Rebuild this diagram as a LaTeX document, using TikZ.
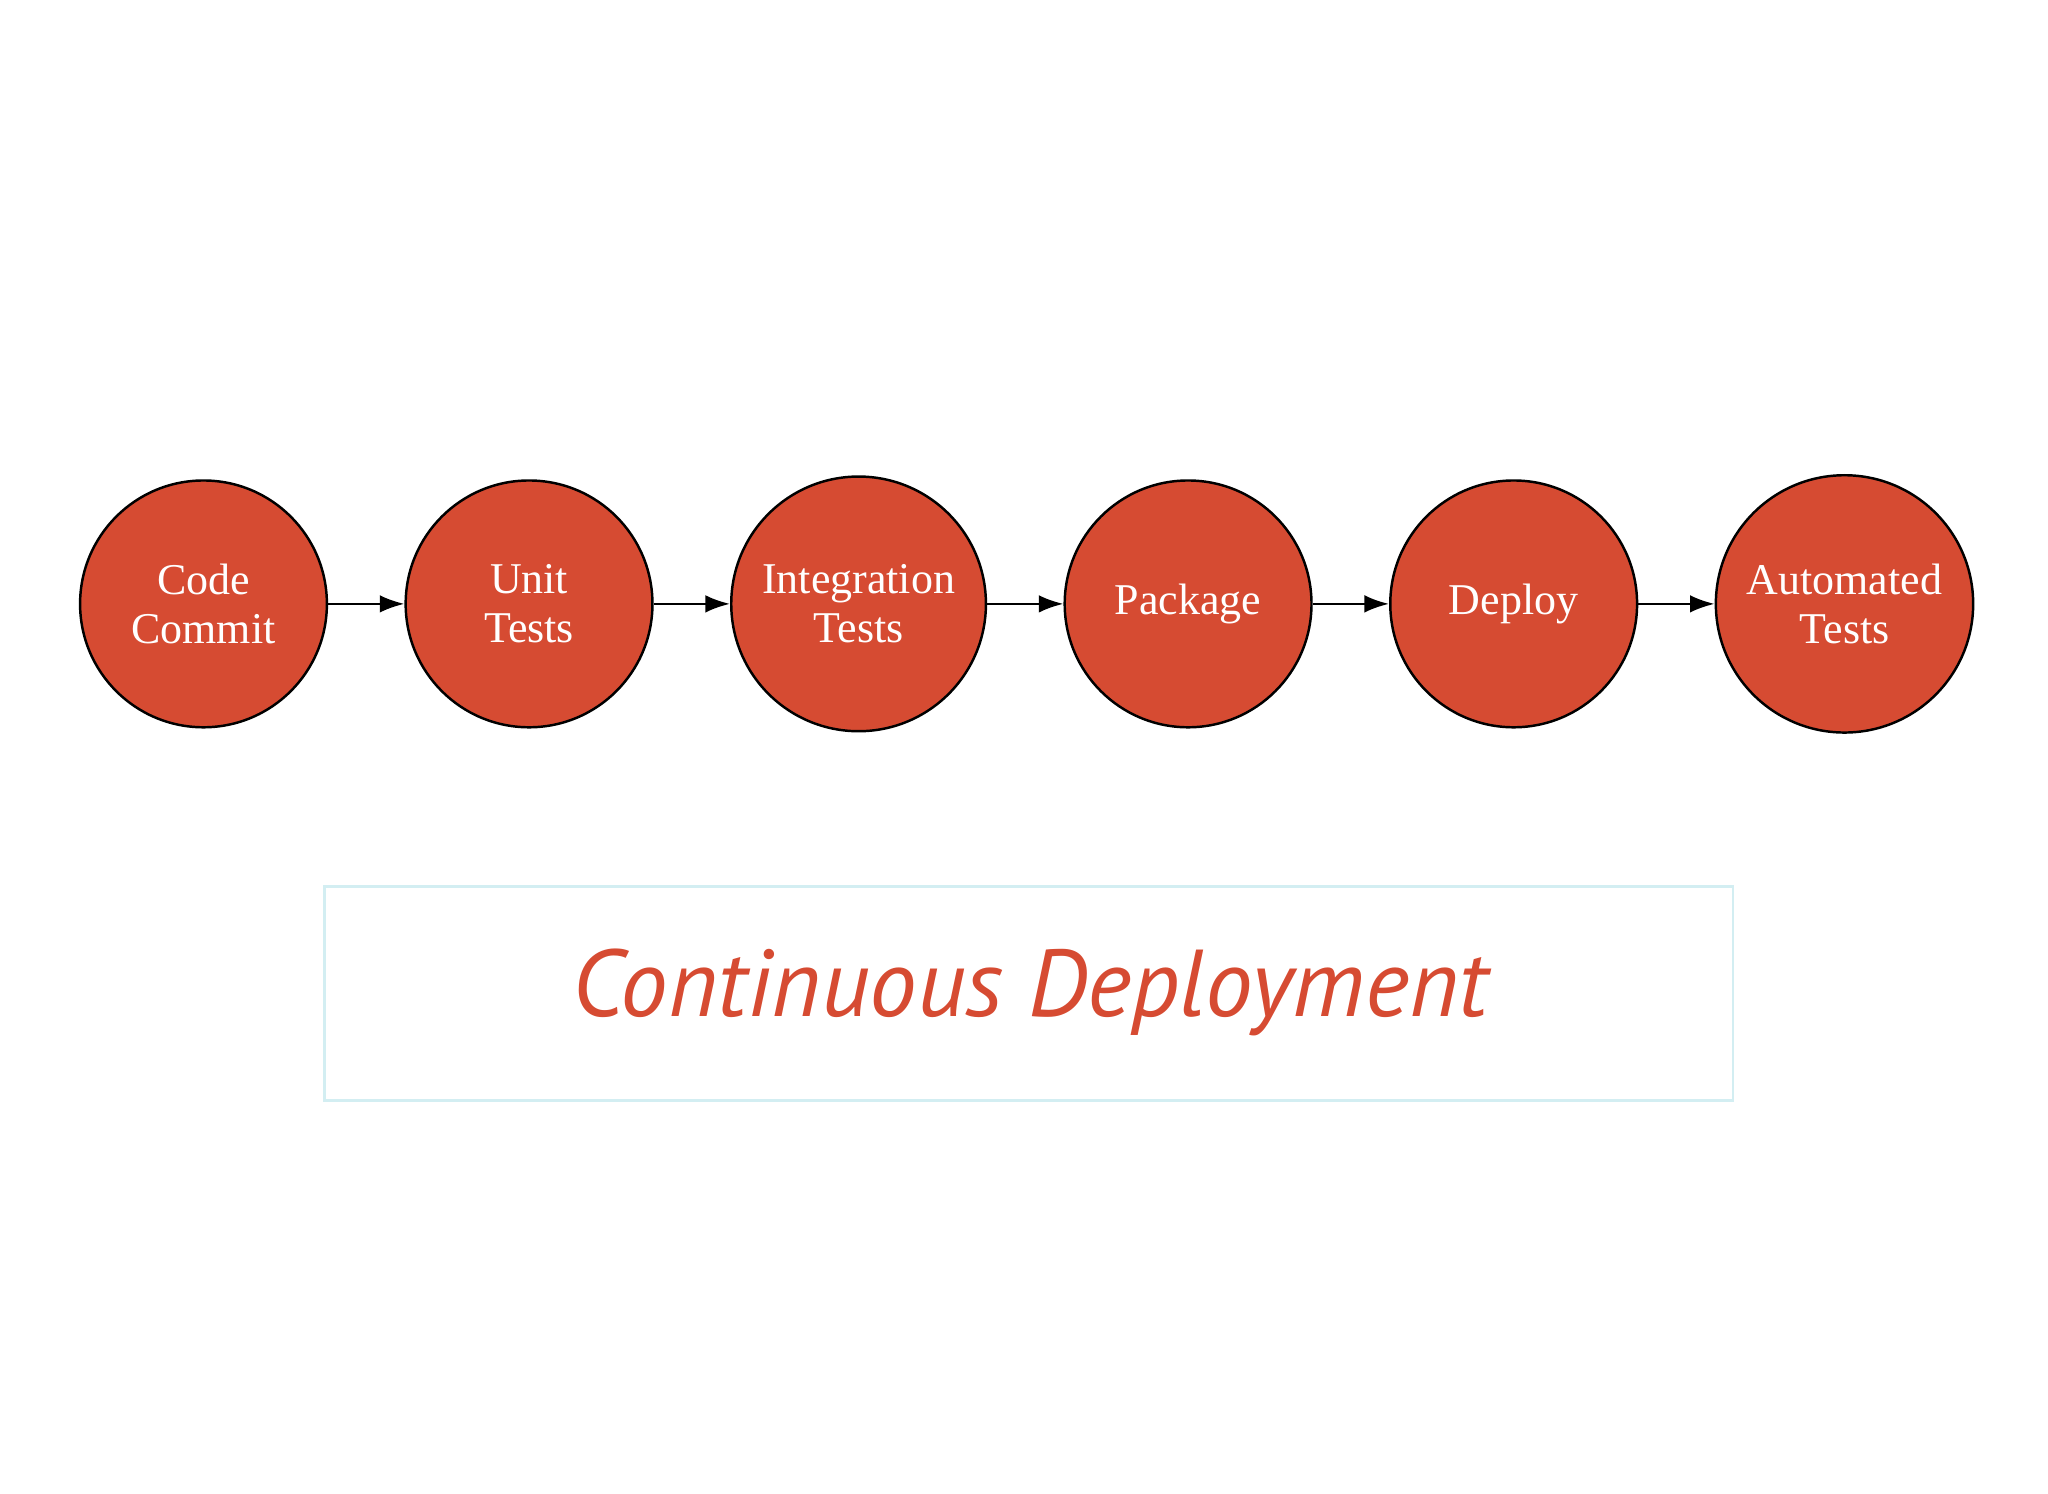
\documentclass[tikz,border=0pt]{standalone}
\usepackage{fontspec}
\setmainfont{Liberation Serif}
\newfontfamily\titlefont{PT Sans}
\usetikzlibrary{arrows.meta}
\definecolor{cdred}{HTML}{D64B32}
\definecolor{boxline}{HTML}{D3EEF2}
\begin{document}
\begin{tikzpicture}[x=0.013128cm,y=-0.013128cm,
  stage/.style={circle,draw=black,line width=0.7pt,fill=cdred,text=white,
    align=center,font=\fontsize{12.5}{14}\selectfont,inner sep=0pt},
  link/.style={-{Latex[length=7pt,width=5pt]},line width=0.7pt}]
\useasboundingbox (0,0) rectangle (1560,1137.3);
\node[stage,minimum size=188*0.013128cm] (a) at (155,460) {Code\\Commit};
\node[stage,minimum size=188*0.013128cm] (b) at (403,460) {Unit\\Tests};
\node[stage,minimum size=194*0.013128cm] (c) at (654,460) {Integration\\Tests};
\node[stage,minimum size=188*0.013128cm] (d) at (905,460) {Package};
\node[stage,minimum size=188*0.013128cm] (e) at (1153,460) {Deploy};
\node[stage,minimum size=196*0.013128cm] (f) at (1405,460) {Automated\\Tests};
\draw[link] (a) -- (b);
\draw[link] (b) -- (c);
\draw[link] (c) -- (d);
\draw[link] (d) -- (e);
\draw[link] (e) -- (f);
\node[draw=boxline,line width=0.8pt,minimum width=1073*0.013128cm,minimum height=163*0.013128cm] (box) at (783.5,756.5) {};
\node[text=cdred,font=\titlefont\itshape\fontsize{27}{30}\selectfont] (title) at (785,756) {Continuous Deployment};
\end{tikzpicture}
\end{document}
